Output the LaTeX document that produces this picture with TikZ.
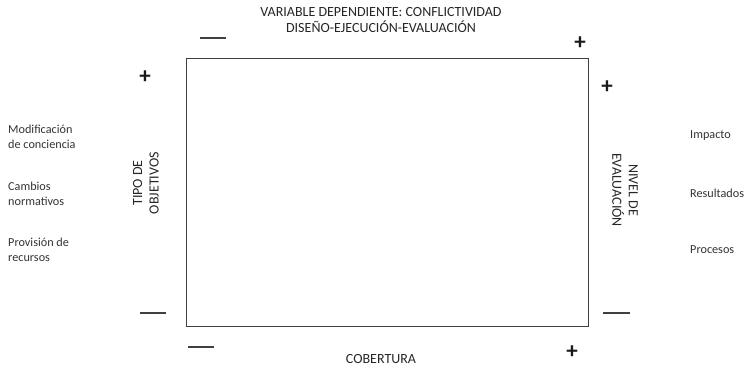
\documentclass[tikz,border=0pt]{standalone}
\usepackage{fontspec}
\setmainfont{Carlito}
\begin{document}
\begin{tikzpicture}[x=1pt,y=-1pt,
  lbl/.style={font=\fontsize{12.2}{15}\selectfont, text=black!80, align=left, inner sep=0pt},
  axis/.style={font=\fontsize{14}{16.5}\selectfont, text=black!85, align=center, inner sep=0pt},
  plus/.style={font=\bfseries\fontsize{23}{23}\selectfont, text=black!90, inner sep=0pt},
  minus/.style={line width=1.2pt, black!75}]
\useasboundingbox (0,0) rectangle (744,370);
\node[draw=black!75, line width=1.6pt, minimum width=402pt, minimum height=268pt, inner sep=0pt] (box) at (387.5,192.5) {};
\node[axis] (title) at (381,20) {VARIABLE DEPENDIENTE: CONFLICTIVIDAD\\DISEÑO-EJECUCIÓN-EVALUACIÓN};
\node[axis] (cob) at (381,359) {COBERTURA};
\node[axis, rotate=90] (tipo) at (146,183) {TIPO DE\\OBJETIVOS};
\node[axis, rotate=-90] (nivel) at (625,190) {NIVEL DE\\EVALUACIÓN};
\node[lbl, anchor=west] (m1) at (8,136.5) {Modificación\\de conciencia};
\node[lbl, anchor=west] (m2) at (8,193.5) {Cambios\\normativos};
\node[lbl, anchor=west] (m3) at (8,250) {Provisión de\\recursos};
\node[lbl, anchor=west] (r1) at (690,136) {Impacto};
\node[lbl, anchor=west] (r2) at (690,193) {Resultados};
\node[lbl, anchor=west] (r3) at (690,250) {Procesos};
\node[plus] (p1) at (580,43) {+};
\node[plus] (p2) at (145,77) {+};
\node[plus] (p3) at (607,87) {+};
\node[plus] (p4) at (572,352) {+};
\coordinate (a1) at (200,38); \coordinate (a2) at (226,38);
\coordinate (b1) at (140,313); \coordinate (b2) at (166,313);
\coordinate (c1) at (603,313); \coordinate (c2) at (630,313);
\coordinate (d1) at (188,347); \coordinate (d2) at (214,347);
\draw[minus] (a1) -- (a2);
\draw[minus] (b1) -- (b2);
\draw[minus] (c1) -- (c2);
\draw[minus] (d1) -- (d2);
\end{tikzpicture}
\end{document}
